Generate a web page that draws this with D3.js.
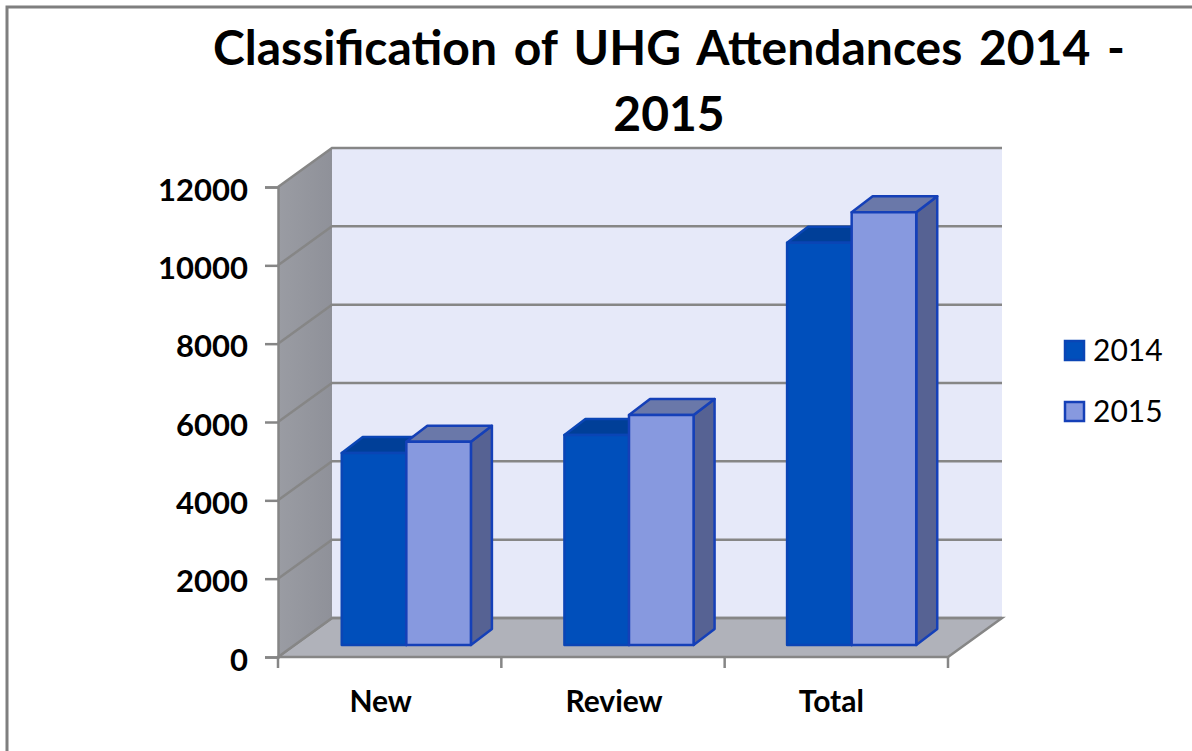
<!DOCTYPE html>
<html>
<head>
<meta charset="utf-8">
<script src="https://d3js.org/d3.v7.min.js"></script>
<style>
  html, body { margin: 0; padding: 0; background: #fff; }
  svg { display: block; }
  text { font-family: Lato, "Open Sans", sans-serif; fill: #000; }
</style>
</head>
<body>
<script>
var categories = ['New', 'Review', 'Total'];
var seriesNames = ['2014', '2015'];
var values2014 = [4900, 5360, 10270];
var values2015 = [5190, 5870, 11050];
var yTicks = [0, 2000, 4000, 6000, 8000, 10000, 12000];
var titleLines = ['Classification of UHG Attendances 2014 -', '2015'];

var width = 1192, height = 751;
var fontStack = 'Lato, "Open Sans", sans-serif';
// oblique offsets of the fake 3d box
var wallDx = 54, wallDy = -39;   // back wall
var barDx = 21, barDy = -16;     // depth of a bar
var frontDy = -12;               // bars stand this far behind the front edge

var colors = {
  2014: { front: '#004fbb', top: '#003f98', side: '#003f98', stroke: '#0a45b5' },
  2015: { front: '#8799df', top: '#6a78a9', side: '#566293', stroke: '#1540b8' }
};

var svg = d3.select('body').append('svg')
  .attr('width', width)
  .attr('height', height);

var defs = svg.append('defs');
var wallGrad = defs.append('linearGradient').attr('id', 'wallGrad');
wallGrad.append('stop').attr('offset', '0%').attr('stop-color', '#9a9ca3');
wallGrad.append('stop').attr('offset', '100%').attr('stop-color', '#8f9199');

// picture frame, only left and top are inside the crop
svg.append('path')
  .attr('d', 'M7,' + height + 'V7H' + width)
  .attr('fill', 'none')
  .attr('stroke', '#7f7f7f')
  .attr('stroke-width', 3);

var y = d3.scaleLinear().domain([0, 12000]).range([657, 187]);
var x0 = d3.scaleBand().domain(categories).range([278, 948]);
// the bars sit on the floor, shifted right of the tick slots
var xGroup = d3.scaleBand().domain(categories).range([295, 963])
  .paddingInner(0.42).paddingOuter(0.21);
var xSeries = d3.scaleBand().domain(seriesNames).range([0, xGroup.bandwidth()]);

var xL = x0.range()[0], xR = x0.range()[1];
var yB = y(0), yT = y(12000);

// back wall
svg.append('rect')
  .attr('x', xL + wallDx)
  .attr('y', yT + wallDy)
  .attr('width', xR - xL)
  .attr('height', yB - yT)
  .attr('fill', '#e6e9f9');

// floor
svg.append('path')
  .attr('d', d3.line()([[xL, yB], [xL + wallDx, yB + wallDy], [xR + wallDx, yB + wallDy], [xR, yB]]) + 'Z')
  .attr('fill', '#b0b2ba')
  .attr('stroke', '#868686')
  .attr('stroke-width', 2.5);

// left wall
svg.append('path')
  .attr('d', d3.line()([[xL, yB], [xL, yT], [xL + wallDx, yT + wallDy], [xL + wallDx, yB + wallDy]]) + 'Z')
  .attr('fill', 'url(#wallGrad)');

// gridlines on both walls
var grid = svg.append('g').attr('fill', 'none').attr('stroke', '#868686').attr('stroke-width', 2.5);
yTicks.forEach(function (t) {
  grid.append('path')
    .attr('d', d3.line()([[xL, y(t)], [xL + wallDx, y(t) + wallDy], [xR + wallDx, y(t) + wallDy]]));
});

// bars, drawn series by series so 2015 overlaps the side of 2014
categories.forEach(function (c, i) {
  seriesNames.forEach(function (s) {
    var v = (s === '2014' ? values2014 : values2015)[i];
    var col = colors[s];
    var bx = xGroup(c) + xSeries(s), bw = xSeries.bandwidth();
    var by = y(v) + frontDy, bb = y(0) + frontDy;
    var g = svg.append('g')
      .attr('stroke', col.stroke)
      .attr('stroke-width', 2.5)
      .attr('stroke-linejoin', 'round');
    g.append('path')
      .attr('d', d3.line()([[bx + bw, by], [bx + bw + barDx, by + barDy], [bx + bw + barDx, bb + barDy], [bx + bw, bb]]) + 'Z')
      .attr('fill', col.side);
    g.append('path')
      .attr('d', d3.line()([[bx, by], [bx + barDx, by + barDy], [bx + bw + barDx, by + barDy], [bx + bw, by]]) + 'Z')
      .attr('fill', col.top);
    g.append('rect')
      .attr('x', bx)
      .attr('y', by)
      .attr('width', bw)
      .attr('height', bb - by)
      .attr('fill', col.front);
  });
});

// axes
var yAxis = d3.axisLeft(y).tickValues(yTicks).tickSize(13).tickPadding(17).tickFormat(d3.format('d'));
var yG = svg.append('g').attr('transform', 'translate(' + xL + ',0)').call(yAxis);
yG.selectAll('line').attr('stroke', '#868686').attr('stroke-width', 2.5);
yG.select('.domain').attr('stroke', '#868686').attr('stroke-width', 2.5);
yG.selectAll('text').attr('font-size', 31).attr('font-weight', 700)
  .style('font-family', fontStack).attr('fill', '#000')
  .attr('dy', '0.42em');

var xAxis = d3.axisBottom(x0).tickSize(0).tickPadding(34);
var xG = svg.append('g').attr('transform', 'translate(0,' + yB + ')').call(xAxis);
xG.select('.domain').remove();
// the labels in the picture are not quite centred on their slots
var labelNudge = [-9, 1, -5];
xG.selectAll('text').attr('font-size', 30).attr('font-weight', 700)
  .style('font-family', fontStack).attr('fill', '#000')
  .attr('dx', function (d, i) { return labelNudge[i]; });

// slot ticks on the category axis
svg.append('g').selectAll('line')
  .data(categories.concat(['end']))
  .join('line')
  .attr('x1', function (d) { return d === 'end' ? xR : x0(d); })
  .attr('x2', function (d) { return d === 'end' ? xR : x0(d); })
  .attr('y1', yB)
  .attr('y2', yB + 11)
  .attr('stroke', '#868686')
  .attr('stroke-width', 2.5);

// title
svg.append('g').selectAll('text')
  .data(titleLines)
  .join('text')
  .attr('x', 669)
  .attr('y', function (d, i) { return 65 + i * 66; })
  .attr('text-anchor', 'middle')
  .attr('font-size', 48)
  .attr('font-weight', 700)
  .attr('word-spacing', 5)
  .text(function (d) { return d; });

// legend
var legend = svg.append('g').selectAll('g')
  .data(seriesNames)
  .join('g')
  .attr('transform', function (d, i) { return 'translate(1065,' + (341 + i * 61) + ')'; });
legend.append('rect')
  .attr('width', 19)
  .attr('height', 19)
  .attr('fill', function (d) { return colors[d].front; })
  .attr('stroke', function (d) { return colors[d].stroke; })
  .attr('stroke-width', 2.5);
legend.append('text')
  .attr('x', 28)
  .attr('y', 20)
  .attr('font-size', 30)
  .attr('font-weight', 400)
  .text(function (d) { return d; });
</script>
</body>
</html>
